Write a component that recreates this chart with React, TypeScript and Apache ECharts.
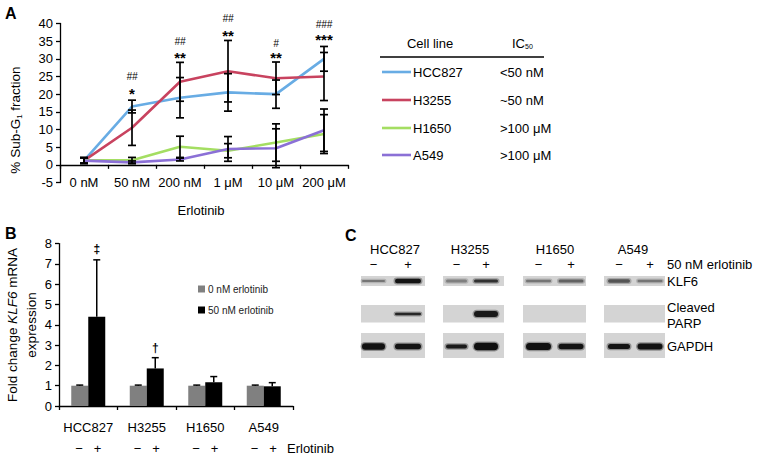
import React, { useEffect, useRef } from "react";
import * as echarts from "echarts";

const FONT = "Liberation Sans, Arial, Helvetica, sans-serif";

// ---------- Panel A data ----------
const doseLabels = ["0 nM", "50 nM", "200 nM", "1 μM", "10 μM", "200 μM"];
const cellLines = ["HCC827", "H3255", "H1650", "A549"];
const ic50Labels = ["<50 nM", "~50 nM", ">100 μM", ">100 μM"];
const lineColors = ["#68ace4", "#c8435f", "#a4de62", "#8b70d6"];

const hcc827Mean = [1.2, 16.5, 19.0, 20.5, 20.0, 30.0];
const hcc827Err = [0.8, 1.8, 5.7, 5.3, 4.0, 3.5];
const h3255Mean = [1.2, 10.5, 23.5, 26.5, 24.5, 25.0];
const h3255Err = [0.8, 5.0, 5.5, 8.7, 4.6, 6.8];
const h1650Mean = [1.3, 1.3, 5.1, 4.0, 6.3, 8.7];
const h1650Err = [0.8, 0.8, 3.0, 2.0, 5.3, 5.5];
const a549Mean = [1.2, 0.7, 1.5, 4.5, 4.7, 9.8];
const a549Err = [0.8, 0.4, 0.4, 3.5, 5.5, 6.0];

const sigCats = [1, 2, 3, 4, 5];
const starTexts = ["*", "**", "**", "**", "***"];
const starY = [21.2, 31.6, 37.6, 31.6, 36.5];
const hashTexts = ["##", "##", "##", "#", "###"];
const hashY = [24.9, 34.8, 41.5, 34.4, 39.6];

// ---------- Panel B data ----------
const bCats = ["HCC827", "H3255", "H1650", "A549"];
const klf6Control = [1.0, 1.0, 1.0, 1.0];
const klf6ControlErr = [0.03, 0.03, 0.03, 0.03];
const klf6Treated = [4.4, 1.85, 1.17, 0.97];
const klf6TreatedErr = [2.8, 0.53, 0.28, 0.18];
const klf6Marks = ["‡", "†"];
const klf6MarkCats = [0, 1];
const klf6MarkY = [7.75, 2.88];

// ---------- Panel C data (blot) ----------
const blotRowNames = ["KLF6", "Cleaved\nPARP", "GAPDH"];
const klf6Darkness = [0.45, 0.95, 0.4, 0.8, 0.45, 0.55, 0.62, 0.45];
const klf6Thickness = [2, 4.5, 3, 3, 2.5, 3, 3.5, 2.5];
const parpDarkness = [0, 0.85, 0, 0.92, 0, 0, 0, 0];
const parpThickness = [0, 2.5, 0, 6, 0, 0, 0, 0];
const gapdhDarkness = [0.96, 0.95, 0.92, 0.97, 0.97, 0.95, 0.95, 0.96];
const gapdhThickness = [6.5, 5.5, 4, 7.5, 7, 5.5, 5, 6];
const bandWidths = [23, 26, 21, 24, 25, 25, 22, 25];
const laneSigns = ["−", "+", "−", "+", "−", "+", "−", "+"];

// layout of the blot (axis units = px inside the blot grid)
const laneX = [12.5, 47, 95.5, 125, 177.5, 210, 258, 289];
const gelX = [
  [0, 64],
  [82, 143],
  [162, 225],
  [243, 304],
];
const rowBox = [
  [0, 10],
  [29, 46.5],
  [57, 82],
];
const rowBandY = [5, 38, 70.5];
const BLOT_LEFT = 361;
const BLOT_TOP = 276;

function errRenderA(params: any, api: any) {
  const x = api.value(0);
  const lo = api.value(1);
  const hi = api.value(2);
  const pLo = api.coord([x, lo]);
  const pHi = api.coord([x, hi]);
  const cw = 4;
  const style = { stroke: "#000", lineWidth: 1.7 };
  return {
    type: "group",
    children: [
      { type: "line", shape: { x1: pLo[0], y1: pLo[1], x2: pHi[0], y2: pHi[1] }, style },
      { type: "line", shape: { x1: pLo[0] - cw, y1: pLo[1], x2: pLo[0] + cw, y2: pLo[1] }, style },
      { type: "line", shape: { x1: pHi[0] - cw, y1: pHi[1], x2: pHi[0] + cw, y2: pHi[1] }, style },
    ],
  };
}

function errRenderB(params: any, api: any) {
  const x = api.value(0);
  const base = api.value(1);
  const top = api.value(2);
  const side = api.value(3);
  const pB = api.coord([x, base]);
  const pT = api.coord([x, top]);
  const off = side * 8.5;
  const cw = 3.5;
  const style = { stroke: "#000", lineWidth: 1.5 };
  return {
    type: "group",
    children: [
      { type: "line", shape: { x1: pB[0] + off, y1: pB[1], x2: pT[0] + off, y2: pT[1] }, style },
      { type: "line", shape: { x1: pT[0] + off - cw, y1: pT[1], x2: pT[0] + off + cw, y2: pT[1] }, style },
    ],
  };
}

function gelRender(params: any, api: any) {
  const g = api.value(0);
  const r = api.value(1);
  const p0 = api.coord([gelX[g][0], rowBox[r][0]]);
  const p1 = api.coord([gelX[g][1], rowBox[r][1]]);
  return {
    type: "rect",
    shape: { x: p0[0], y: p0[1], width: p1[0] - p0[0], height: p1[1] - p0[1] },
    style: { fill: "#d4d4d4" },
  };
}

function bandRender(params: any, api: any) {
  const lane = api.value(0);
  const row = api.value(1);
  const dark = api.value(2);
  const th = api.value(3);
  const w = api.value(4);
  if (!dark || !th) return null;
  const p = api.coord([laneX[lane], rowBandY[row]]);
  const g = Math.round(205 - dark * 195);
  const col = `rgb(${g},${g},${g})`;
  return {
    type: "group",
    children: [
      {
        type: "rect",
        shape: { x: p[0] - w / 2 - 1.5, y: p[1] - th / 2 - 1.2, width: w + 3, height: th + 2.4, r: (th + 2.4) / 2 },
        style: { fill: col, opacity: 0.35 },
      },
      {
        type: "rect",
        shape: { x: p[0] - w / 2, y: p[1] - th / 2, width: w, height: th, r: th / 2 },
        style: { fill: col },
      },
    ],
  };
}

function textRender(texts: string[], font: any, dx: number, dy: number) {
  return (params: any, api: any) => {
    const p = api.coord([api.value(0), api.value(1)]);
    return {
      type: "text",
      x: p[0] + dx,
      y: p[1] + dy,
      style: {
        text: texts[params.dataIndex],
        fill: "#000",
        fontFamily: FONT,
        align: "center",
        verticalAlign: "middle",
        textAlign: "center",
        textVerticalAlign: "middle",
        ...font,
      },
    };
  };
}

function buildOption() {
  const meansA = [hcc827Mean, h3255Mean, h1650Mean, a549Mean];
  const errsA = [hcc827Err, h3255Err, h1650Err, a549Err];

  const lineSeries = cellLines.map((name, k) => ({
    name,
    type: "line",
    xAxisIndex: 0,
    yAxisIndex: 0,
    data: meansA[k],
    symbol: "none",
    lineStyle: { color: lineColors[k], width: 2.6 },
    itemStyle: { color: lineColors[k] },
    z: 3,
  }));

  const errSeriesA = cellLines.map((name, k) => ({
    type: "custom",
    xAxisIndex: 0,
    yAxisIndex: 0,
    renderItem: errRenderA,
    encode: { x: 0, y: [1, 2] },
    data: meansA[k].map((m, i) => [i, m - errsA[k][i], m + errsA[k][i]]),
    z: 4,
    silent: true,
  }));

  const labelSeries = (axisIdx: number, data: number[][], texts: string[], font: any, dx: number, dy: number) => ({
    type: "custom",
    xAxisIndex: axisIdx,
    yAxisIndex: axisIdx,
    clip: false,
    silent: true,
    z: 6,
    renderItem: textRender(texts, font, dx, dy),
    encode: { x: 0, y: 1 },
    data,
  });

  const starSeries = labelSeries(
    0,
    sigCats.map((c, i) => [c, starY[i]]),
    starTexts,
    { fontSize: 15, fontWeight: "bold" },
    0,
    4
  );
  const hashSeries = labelSeries(
    0,
    sigCats.map((c, i) => [c, hashY[i]]),
    hashTexts,
    { fontSize: 10, fontStyle: "italic" },
    0,
    0
  );

  const barControl = {
    name: "0 nM erlotinib",
    type: "bar",
    xAxisIndex: 1,
    yAxisIndex: 1,
    data: klf6Control,
    barWidth: 17,
    barGap: "0%",
    itemStyle: { color: "#808080" },
  };
  const barTreated = {
    name: "50 nM erlotinib",
    type: "bar",
    xAxisIndex: 1,
    yAxisIndex: 1,
    data: klf6Treated,
    barWidth: 17,
    barGap: "0%",
    itemStyle: { color: "#000" },
  };
  const errB = {
    type: "custom",
    xAxisIndex: 1,
    yAxisIndex: 1,
    renderItem: errRenderB,
    encode: { x: 0, y: [1, 2] },
    silent: true,
    z: 5,
    data: [
      ...klf6Control.map((m, i) => [i, m, m + klf6ControlErr[i], -1]),
      ...klf6Treated.map((m, i) => [i, m, m + klf6TreatedErr[i], 1]),
    ],
  };
  const markB = labelSeries(
    1,
    klf6MarkCats.map((c, i) => [c, klf6MarkY[i]]),
    klf6Marks,
    { fontSize: 12, fontWeight: "bold" },
    8.5,
    0
  );

  const darkRows = [klf6Darkness, parpDarkness, gapdhDarkness];
  const thickRows = [klf6Thickness, parpThickness, gapdhThickness];
  const bandData: number[][] = [];
  darkRows.forEach((row, r) =>
    row.forEach((d, lane) => {
      if (d > 0) bandData.push([lane, r, d, thickRows[r][lane], bandWidths[lane]]);
    })
  );
  const gelData: number[][] = [];
  gelX.forEach((_, g) => rowBox.forEach((_, r) => gelData.push([g, r])));

  const gelSeries = {
    type: "custom",
    xAxisIndex: 2,
    yAxisIndex: 2,
    renderItem: gelRender,
    data: gelData,
    silent: true,
    clip: false,
    z: 1,
  };
  const bandSeries = {
    type: "custom",
    xAxisIndex: 2,
    yAxisIndex: 2,
    renderItem: bandRender,
    data: bandData,
    silent: true,
    clip: false,
    z: 2,
  };

  const txt = (x: number, y: number, text: string, extra: any = {}, elExtra: any = {}) => ({
    type: "text",
    x,
    y,
    ...elExtra,
    style: {
      text,
      fill: "#000",
      fontSize: 13,
      fontFamily: FONT,
      align: "left",
      textAlign: "left",
      verticalAlign: "middle",
      textVerticalAlign: "middle",
      ...extra,
    },
  });

  const legendRowsY = [72, 100, 128, 155];
  const graphicA: any[] = [
    txt(5, 13.5, "A", { fontWeight: "bold", fontSize: 16 }),
    txt(201, 210, "Erlotinib", { align: "center", textAlign: "center" }),
    {
      type: "text",
      x: 15,
      y: 120,
      rotation: Math.PI / 2,
      style: {
        text: "{a|% Sub-G}{s|1}{a| fraction}",
        align: "center",
        textAlign: "center",
        verticalAlign: "middle",
        textVerticalAlign: "middle",
        fill: "#000",
        rich: {
          a: { fontSize: 13.5, fontFamily: FONT, fill: "#000", lineHeight: 16, verticalAlign: "middle" },
          s: { fontSize: 8, fontFamily: FONT, fill: "#000", lineHeight: 16, verticalAlign: "bottom", padding: [6, 0, 0, 0] },
        },
      },
    },
    txt(430, 43, "Cell line", { align: "center", textAlign: "center" }),
    {
      type: "text",
      x: 512,
      y: 43,
      style: {
        text: "{a|IC}{s|50}",
        align: "left",
        textAlign: "left",
        verticalAlign: "middle",
        textVerticalAlign: "middle",
        rich: {
          a: { fontSize: 13, fontFamily: FONT, fill: "#000", lineHeight: 16 },
          s: { fontSize: 7, fontFamily: FONT, fill: "#000", lineHeight: 16, padding: [7, 0, 0, 0] },
        },
      },
    },
    { type: "line", shape: { x1: 380, y1: 57, x2: 544, y2: 57 }, style: { stroke: "#000", lineWidth: 1.6 } },
  ];
  cellLines.forEach((name, k) => {
    graphicA.push({
      type: "line",
      shape: { x1: 382, y1: legendRowsY[k], x2: 411, y2: legendRowsY[k] },
      style: { stroke: lineColors[k], lineWidth: 2.6 },
    });
    graphicA.push(txt(413, legendRowsY[k], name));
    graphicA.push(txt(500, legendRowsY[k], ic50Labels[k]));
  });

  const graphicB: any[] = [
    txt(5, 233, "B", { fontWeight: "bold", fontSize: 16 }),
    txt(287, 448, "Erlotinib"),
    {
      type: "text",
      x: 22,
      y: 325,
      rotation: Math.PI / 2,
      style: {
        text: "{a|Fold change }{i|KLF6}{a| mRNA}\n{a|expression}",
        align: "center",
        textAlign: "center",
        verticalAlign: "middle",
        textVerticalAlign: "middle",
        fill: "#000",
        rich: {
          a: { fontSize: 13.5, fontFamily: FONT, fill: "#000", lineHeight: 19 },
          i: { fontSize: 13.5, fontFamily: FONT, fill: "#000", lineHeight: 19, fontStyle: "italic" },
        },
      },
    },
  ];

  const cellNameX = [395, 470, 555, 633];
  const graphicC: any[] = [txt(345, 235, "C", { fontWeight: "bold", fontSize: 16 })];
  bCats.forEach((n, i) => graphicC.push(txt(cellNameX[i], 249, n, { align: "center", textAlign: "center" })));
  laneSigns.forEach((s, i) =>
    graphicC.push(txt(BLOT_LEFT + laneX[i], 264, s, { align: "center", textAlign: "center" }))
  );
  graphicC.push(txt(667, 264, "50 nM erlotinib"));
  graphicC.push(txt(667, BLOT_TOP + 5.5, blotRowNames[0]));
  graphicC.push({
    type: "text",
    x: 667,
    y: BLOT_TOP + 39,
    style: {
      text: blotRowNames[1],
      fill: "#000",
      fontSize: 13,
      fontFamily: FONT,
      lineHeight: 16,
      align: "left",
      textAlign: "left",
      verticalAlign: "middle",
      textVerticalAlign: "middle",
    },
  });
  graphicC.push(txt(667, BLOT_TOP + 70.5, blotRowNames[2]));

  const axisBase = {
    axisLine: { lineStyle: { color: "#000", width: 1.3 } },
    axisTick: { lineStyle: { color: "#000", width: 1.3 } },
    splitLine: { show: false },
  };

  return {
    animation: false,
    backgroundColor: "#fff",
    textStyle: { fontFamily: FONT },
    grid: [
      { left: 60, top: 23.5, width: 288, height: 159 },
      { left: 59, top: 243.6, width: 234, height: 162.4 },
      { left: BLOT_LEFT, top: BLOT_TOP, width: 304, height: 82 },
    ],
    legend: {
      data: ["0 nM erlotinib", "50 nM erlotinib"],
      orient: "vertical",
      left: 193,
      top: 279,
      itemWidth: 7,
      itemHeight: 7,
      itemGap: 11,
      icon: "rect",
      selectedMode: false,
      textStyle: { fontSize: 10, color: "#222", fontFamily: FONT, padding: [0, 0, 0, -2] },
    },
    xAxis: [
      {
        type: "category",
        gridIndex: 0,
        data: doseLabels,
        boundaryGap: true,
        ...axisBase,
        axisLine: { onZero: true, lineStyle: { color: "#000", width: 1.3 } },
        axisTick: { show: true, length: 4, lineStyle: { color: "#000", width: 1.3 } },
        axisLabel: { color: "#000", fontSize: 13, margin: -7, interval: 0, fontFamily: FONT },
      },
      {
        type: "category",
        gridIndex: 1,
        data: bCats,
        boundaryGap: true,
        ...axisBase,
        axisTick: { show: true, length: 4, lineStyle: { color: "#000", width: 1.3 } },
        axisLabel: {
          color: "#000",
          interval: 0,
          margin: 10.5,
          formatter: (v: string) => `{n|${v}}\n{s|−   +}`,
          rich: {
            n: { fontSize: 13, fontFamily: FONT, color: "#000", lineHeight: 21 },
            s: { fontSize: 13, fontFamily: FONT, color: "#000", lineHeight: 21 },
          },
        },
      },
      { type: "value", gridIndex: 2, min: 0, max: 304, show: false },
    ],
    yAxis: [
      {
        type: "value",
        gridIndex: 0,
        min: -5,
        max: 40,
        interval: 5,
        ...axisBase,
        axisLine: { show: true, lineStyle: { color: "#000", width: 1.3 } },
        axisTick: { show: true, length: 4, lineStyle: { color: "#000", width: 1.3 } },
        axisLabel: { color: "#000", fontSize: 13, margin: 7, fontFamily: FONT },
      },
      {
        type: "value",
        gridIndex: 1,
        min: 0,
        max: 8,
        interval: 1,
        ...axisBase,
        axisLine: { show: true, lineStyle: { color: "#000", width: 1.3 } },
        axisTick: { show: true, length: 4, lineStyle: { color: "#000", width: 1.3 } },
        axisLabel: { color: "#000", fontSize: 13, margin: 7, fontFamily: FONT },
      },
      { type: "value", gridIndex: 2, min: 0, max: 82, inverse: true, show: false },
    ],
    series: [
      ...lineSeries,
      ...errSeriesA,
      starSeries,
      hashSeries,
      barControl,
      barTreated,
      errB,
      markB,
      gelSeries,
      bandSeries,
    ],
    graphic: [...graphicA, ...graphicB, ...graphicC],
  };
}

export default function App() {
  const ref = useRef<HTMLDivElement>(null);
  useEffect(() => {
    document.body.style.margin = "0";
    const chart = echarts.init(ref.current!, null, { renderer: "svg" });
    chart.setOption(buildOption() as any);
    return () => chart.dispose();
  }, []);
  return <div ref={ref} style={{ width: 760, height: 458, background: "#fff" }} />;
}
